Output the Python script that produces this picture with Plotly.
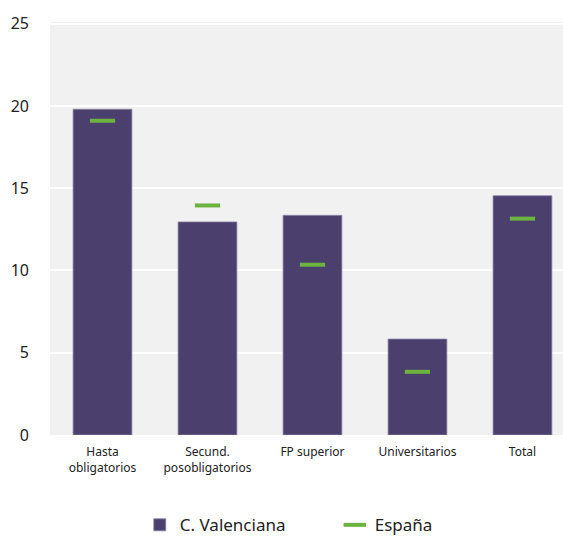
import plotly.graph_objects as go

categories = ["Hasta<br>obligatorios", "Secund.<br>posobligatorios", "FP superior", "Universitarios", "Total"]
valenciana = [19.8, 12.95, 13.35, 5.83, 14.54]
espana = [19.1, 13.95, 10.35, 3.84, 13.15]
y_ticks = [0, 5, 10, 15, 20, 25]

fig = go.Figure()
fig.add_trace(go.Bar(
    x=categories, y=valenciana, name="C. Valenciana",
    marker=dict(color="#4B3F6E", line=dict(color="#8A84A3", width=0.8)),
))
fig.add_trace(go.Scatter(
    x=categories, y=espana, name="España", mode="markers",
    marker=dict(symbol="line-ew", size=18, line=dict(color="#6DB33F", width=4)),
))

fig.update_layout(
    width=563, height=543,
    margin=dict(l=50, r=0, t=22, b=108, autoexpand=False),
    paper_bgcolor="white", plot_bgcolor="#F1F1F1",
    font=dict(family="Noto Sans, Open Sans, sans-serif", color="#222222"),
    bargap=0.44,
    showlegend=True,
    legend=dict(orientation="h", x=0.175, xanchor="left", y=-0.175, yanchor="top",
                font=dict(size=17), entrywidth=150, entrywidthmode="pixels",
                bgcolor="rgba(0,0,0,0)"),
)
fig.update_xaxes(range=[-0.5, 4.386], tickfont=dict(size=12), showgrid=False,
                 ticks="", showline=False, automargin=False, ticklabelstandoff=8)
fig.update_yaxes(range=[0, 25.1], tickvals=y_ticks, tickfont=dict(size=16),
                 gridcolor="white", gridwidth=1.5, zeroline=False, ticks="",
                 ticklabelstandoff=20, automargin=False)

fig.write_html("out.html", config={"displayModeBar": False},
               post_script="document.body.style.margin='0px';document.body.style.overflow='hidden';")
